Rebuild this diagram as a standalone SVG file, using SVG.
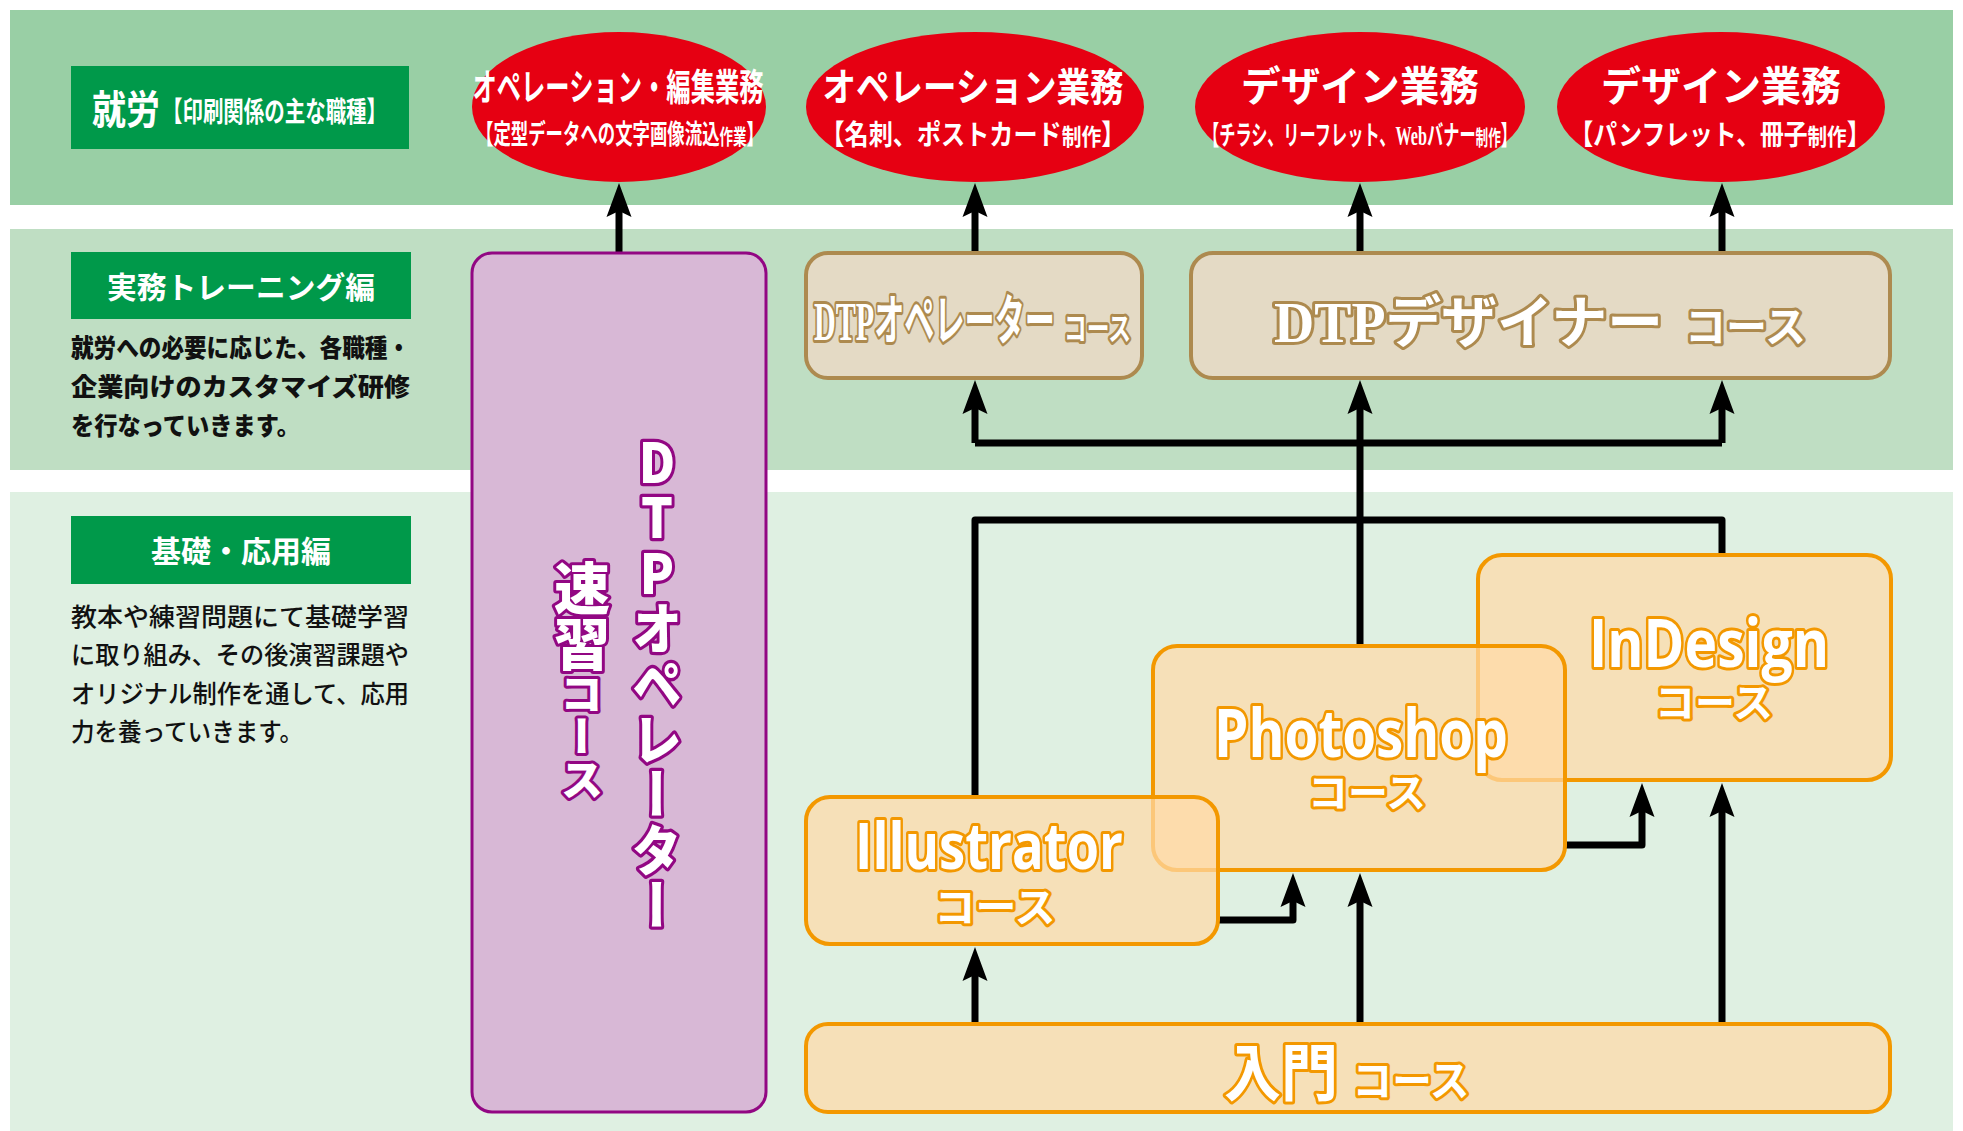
<svg xmlns="http://www.w3.org/2000/svg" width="1963" height="1131" viewBox="0 0 1963 1131">
<defs>
<style>
.band1{fill:#99cfa5}
.band2{fill:#bfdec3}
.band3{fill:#dff0e2}
.glabel{fill:#00994a}
.gtxt{fill:#fff;font-family:"Noto Sans CJK JP",sans-serif;font-weight:700}
.para1{fill:#111;font-family:"Noto Sans CJK JP",sans-serif;font-weight:900;font-size:25px}
.para2{fill:#111;font-family:"Noto Sans CJK JP",sans-serif;font-weight:500;font-size:25px}
.ell{fill:#e60012}
.etxt{fill:#fff;font-family:"Liberation Serif","Noto Sans CJK JP",serif;font-weight:700;text-anchor:middle}
.purple{fill:#d8b8d6;stroke:#920783;stroke-width:3}
.ptxt{fill:#fff;stroke:#920783;stroke-width:6;paint-order:stroke;stroke-linejoin:round;font-family:"Noto Sans CJK JP",sans-serif;font-weight:900;writing-mode:vertical-rl;text-orientation:upright}
.tan{fill:#e4dac5;stroke:#ad8a4f;stroke-width:4}
.ttxt{fill:#fff;stroke:#ad8a4f;stroke-width:6;paint-order:stroke;stroke-linejoin:round;font-family:"Liberation Serif","Noto Sans CJK JP",serif;font-weight:700}
.orange{fill:#ffdaa8;fill-opacity:0.72;stroke:#f39800;stroke-width:4}
.otxt{fill:#fff;stroke:#f39800;stroke-width:6;paint-order:stroke;stroke-linejoin:round;font-family:"Open Sans","Noto Sans CJK JP",sans-serif;font-weight:700;text-anchor:middle}
.conn{fill:none;stroke:#000;stroke-width:7;stroke-linejoin:round}
.arr{marker-end:url(#ah)}
</style>
<marker id="ah" markerUnits="userSpaceOnUse" orient="auto" overflow="visible" markerWidth="40" markerHeight="30" refX="0" refY="0">
<path d="M0,0 L-6,-12.5 L28,0 L-6,12.5 Z" fill="#000"/>
</marker>
</defs>
<rect width="1963" height="1131" fill="#fff"/>
<g id="bands">
<rect class="band1" x="10" y="10" width="1943" height="195"/>
<rect class="band2" x="10" y="229" width="1943" height="241"/>
<rect class="band3" x="10" y="492" width="1943" height="639"/>
</g>

<g id="label-shuro">
<rect class="glabel" x="71" y="66" width="338" height="83"/>
<text class="gtxt" x="92" y="124" font-size="40" textLength="68" lengthAdjust="spacingAndGlyphs">就労</text>
<text class="gtxt" x="162" y="122" font-size="28" textLength="225" lengthAdjust="spacingAndGlyphs">【印刷関係の主な職種】</text>
</g>

<g id="label-jitsumu">
<rect class="glabel" x="71" y="252" width="340" height="67"/>
<text class="gtxt" x="107" y="298" font-size="30" textLength="268" lengthAdjust="spacingAndGlyphs">実務トレーニング編</text>
<text class="para1" x="71" y="357" textLength="339" lengthAdjust="spacingAndGlyphs">就労への必要に応じた、各職種・</text>
<text class="para1" x="71" y="396" textLength="339" lengthAdjust="spacingAndGlyphs">企業向けのカスタマイズ研修</text>
<text class="para1" x="71" y="435" textLength="229" lengthAdjust="spacingAndGlyphs">を行なっていきます。</text>
</g>

<g id="label-kiso">
<rect class="glabel" x="71" y="516" width="340" height="68"/>
<text class="gtxt" x="241" y="562" font-size="30" text-anchor="middle">基礎・応用編</text>
<text class="para2" x="71" y="626" textLength="338" lengthAdjust="spacingAndGlyphs">教本や練習問題にて基礎学習</text>
<text class="para2" x="71" y="664" textLength="338" lengthAdjust="spacingAndGlyphs">に取り組み、その後演習課題や</text>
<text class="para2" x="71" y="703" textLength="338" lengthAdjust="spacingAndGlyphs">オリジナル制作を通して、応用</text>
<text class="para2" x="71" y="741" textLength="232" lengthAdjust="spacingAndGlyphs">力を養っていきます。</text>
</g>

<g id="connectors">
<path class="conn arr" d="M619,253 V211"/>
<path class="conn arr" d="M975,253 V211"/>
<path class="conn arr" d="M1360,253 V211"/>
<path class="conn arr" d="M1722,253 V211"/>
<path class="conn" d="M975,443 H1722"/>
<path class="conn arr" d="M975,443 V408"/>
<path class="conn arr" d="M1360,646 V408"/>
<path class="conn arr" d="M1722,443 V408"/>
<path class="conn" d="M975,797 V520 H1722 V555"/>
<path class="conn arr" d="M975,1024 V975"/>
<path class="conn arr" d="M1360,1024 V901"/>
<path class="conn arr" d="M1722,1024 V811"/>
<path class="conn arr" d="M1218,920 H1293 V901"/>
<path class="conn arr" d="M1565,845 H1642 V811"/>
</g>

<g id="job-operation-edit">
<ellipse class="ell" cx="619" cy="107" rx="147" ry="75"/>
<text class="etxt" x="618" y="101" font-size="37" textLength="291" lengthAdjust="spacingAndGlyphs">オペレーション・編集業務</text>
<text class="etxt" x="620" y="144" font-size="27" textLength="288" lengthAdjust="spacingAndGlyphs">【定型データへの文字画像流込<tspan font-size="21">作業</tspan>】</text>
</g>
<g id="job-operation">
<ellipse class="ell" cx="975" cy="107" rx="169" ry="75"/>
<text class="etxt" x="973" y="101" font-size="39" textLength="301" lengthAdjust="spacingAndGlyphs">オペレーション業務</text>
<text class="etxt" x="973" y="145" font-size="28" textLength="305" lengthAdjust="spacingAndGlyphs">【名刺、ポストカード<tspan font-size="23">制作</tspan>】</text>
</g>
<g id="job-design-1">
<ellipse class="ell" cx="1360" cy="107" rx="165" ry="75"/>
<text class="etxt" x="1360" y="101" font-size="41" textLength="238" lengthAdjust="spacingAndGlyphs">デザイン業務</text>
<text class="etxt" x="1360" y="145" font-size="27" textLength="314" lengthAdjust="spacingAndGlyphs">【チラシ、リーフレット、Webバナー<tspan font-size="21">制作</tspan>】</text>
</g>
<g id="job-design-2">
<ellipse class="ell" cx="1721" cy="107" rx="164" ry="75"/>
<text class="etxt" x="1721" y="101" font-size="41" textLength="240" lengthAdjust="spacingAndGlyphs">デザイン業務</text>
<text class="etxt" x="1720" y="145" font-size="28" textLength="301" lengthAdjust="spacingAndGlyphs">【パンフレット、冊子<tspan font-size="23">制作</tspan>】</text>
</g>

<g id="course-dtp-quick">
<rect class="purple" x="472" y="253" width="294" height="859" rx="20"/>
<text class="ptxt" x="657" y="434" font-size="50" textLength="499" lengthAdjust="spacingAndGlyphs">DTPオペレーター</text>
<text class="ptxt" x="582" y="560" font-size="56">速習<tspan font-size="43">コース</tspan></text>
</g>

<g id="course-dtp-operator">
<rect class="tan" x="806" y="253" width="336" height="125" rx="22"/>
<text class="ttxt" x="814" y="340" font-size="54" textLength="241" lengthAdjust="spacingAndGlyphs">DTPオペレーター</text>
<text class="ttxt" x="1064" y="340" font-size="32" textLength="67" lengthAdjust="spacingAndGlyphs">コース</text>
</g>

<g id="course-dtp-designer">
<rect class="tan" x="1191" y="253" width="699" height="125" rx="22"/>
<text class="ttxt" x="1274" y="342" font-size="56" textLength="389" lengthAdjust="spacingAndGlyphs">DTPデザイナー</text>
<text class="ttxt" x="1685" y="342" font-size="42" textLength="121" lengthAdjust="spacingAndGlyphs">コース</text>
</g>

<g id="course-indesign">
<rect class="orange" x="1478" y="555" width="413" height="225" rx="24"/>
<text class="otxt" x="1709" y="667" font-size="66" textLength="240" lengthAdjust="spacingAndGlyphs">InDesign</text>
<text class="otxt" x="1714" y="717" font-size="40">コース</text>
</g>

<g id="course-photoshop">
<rect class="orange" x="1153" y="646" width="412" height="224" rx="24"/>
<text class="otxt" x="1361" y="757" font-size="66" textLength="294" lengthAdjust="spacingAndGlyphs">Photoshop</text>
<text class="otxt" x="1367" y="807" font-size="40">コース</text>
</g>

<g id="course-illustrator">
<rect class="orange" x="806" y="797" width="412" height="147" rx="24"/>
<text class="otxt" x="989" y="869" font-size="64" textLength="268" lengthAdjust="spacingAndGlyphs">Illustrator</text>
<text class="otxt" x="995" y="922" font-size="41">コース</text>
</g>

<g id="course-intro">
<rect class="orange" x="806" y="1024" width="1084" height="88" rx="22"/>
<text class="otxt" x="1281" y="1096" font-size="62" textLength="114" lengthAdjust="spacingAndGlyphs">入門</text>
<text class="otxt" x="1411" y="1096" font-size="42" textLength="117" lengthAdjust="spacingAndGlyphs">コース</text>
</g>
</svg>
